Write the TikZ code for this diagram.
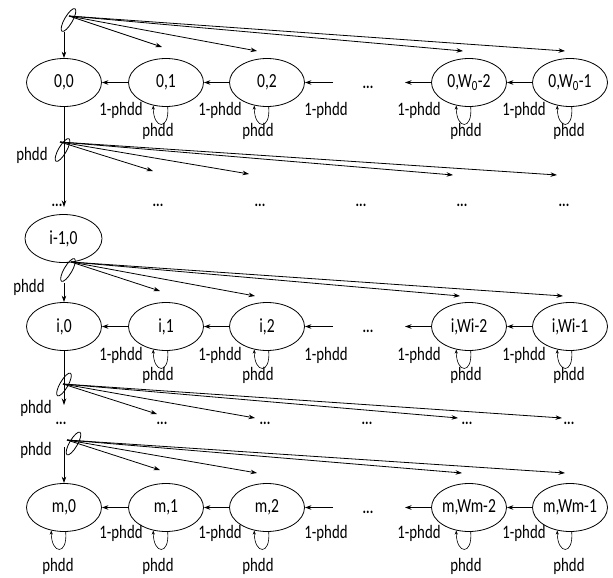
\documentclass[tikz,border=0pt]{standalone}
\usepackage{fontspec}
\setmainfont{Carlito}[FakeStretch=0.78]
\usetikzlibrary{shapes.geometric,arrows.meta}

\tikzset{
  state/.style={draw, ellipse, minimum width=75pt, minimum height=48pt,
    inner xsep=-8pt, inner ysep=0pt, font=\fontsize{20}{22}\selectfont},
  prob/.style={inner sep=0pt, font=\fontsize{19}{21}\selectfont},
  gap/.style={inner sep=0pt, font=\fontsize{17}{19}\selectfont\bfseries},
  selfloop/.style={line width=0.6pt, >={Stealth[length=4pt,width=3pt]}, <-},
}

\begin{document}
\begin{tikzpicture}[x=1pt, y=-1pt, >={Stealth[length=6.5pt,width=4.5pt]}, line width=0.8pt]

  \useasboundingbox (0,0) rectangle (613,578);

  % stage 0
  \node[state] (zero0) at (64,82.5)  {0,0};
  \node[state] (zero1) at (166,82.5) {0,1};
  \node[state] (zero2) at (267,82.5) {0,2};
  \node[state] (zero4) at (469,82.5) {0,W\textsubscript{0}-2};
  \node[state] (zero5) at (570,82.5) {0,W\textsubscript{0}-1};

  % stage i-1 (only its first counter)
  \node[state, minimum width=77pt] (prev0) at (63.5,238.5) {i-1,0};

  % stage i
  \node[state] (mid0) at (64,326.5)  {i,0};
  \node[state] (mid1) at (166,326.5) {i,1};
  \node[state] (mid2) at (267,326.5) {i,2};
  \node[state] (mid4) at (469,326.5) {i,Wi-2};
  \node[state] (mid5) at (570,326.5) {i,Wi-1};

  % stage m
  \node[state] (last0) at (64,507.5)  {m,0};
  \node[state] (last1) at (166,507.5) {m,1};
  \node[state] (last2) at (267,507.5) {m,2};
  \node[state] (last4) at (469,507.5) {m,Wm-2};
  \node[state] (last5) at (570,507.5) {m,Wm-1};

  % countdown chain of each stage, with its labels and loops
  \foreach \row/\y/\dy/\py in {zero/82.5/28/48.5, mid/326.5/28.5/48.5, last/507.5/25.5/58.5} {
    \coordinate (\row-in)  at (333,\y);
    \coordinate (\row-out) at (405,\y);
    \node[gap] (\row-gap) at (368,\y+5) {...};
    \draw[->, line width=1.1pt] (\row1) -- (\row0);
    \draw[->, line width=1.1pt] (\row2) -- (\row1);
    \draw[->, line width=1.1pt] (\row-in) -- (\row2);
    \draw[->, line width=1.1pt] (\row4) -- (\row-out);
    \draw[->, line width=1.1pt] (\row5) -- (\row4);
    \foreach \x in {121,220,326,419,524}
      \node[prob] (\row-fail\x) at (\x,\y+\dy) {1-phdd};
    \foreach \k/\x in {1/158, 2/258, 4/466, 5/569} {
      \draw[selfloop] (\row\k.241) .. controls +(0,24) and +(2,24) .. (\row\k.274);
      \node[prob] (\row-stay\k) at (\x,\y+\py) {phdd};
    }
  }
  % last stage keeps its first counter too
  \draw[selfloop] (last0.241) .. controls +(0,24) and +(2,24) .. (last0.274);
  \node[prob] (last-stay0) at (58,566) {phdd};

  % fan origins with their small ellipses
  \foreach \n/\fx/\fy/\ex/\ey in {1/69/16/68.5/20, 2/60/142/62.5/150, 3/71/262/68/270,
                                  4/63/384/64/384.5, 5/67/440/73.5/443.5} {
    \coordinate (f\n) at (\fx,\fy);
    \draw[rotate around={60:(\ex,\ey)}] (\ex,\ey) ellipse (13 and 4);
  }

  % fan-out arrows into the next stage
  \foreach \n/\tx/\ty in {1/162/47, 1/257/51, 1/463/51, 1/565/51,
                          2/153/171, 2/249/174, 2/453/175, 2/557/175,
                          3/160/291, 3/255/296, 3/460/296, 3/563/296,
                          4/157/414, 4/255/418, 4/458/418, 4/562/418,
                          5/160/470, 5/257/473, 5/462/473, 5/565/473} {
    \coordinate (t\n-\tx) at (\tx,\ty);
    \draw[->] (f\n) -- (t\n-\tx);
  }

  % vertical transitions between stages
  \coordinate (v1) at (64,32);
  \coordinate (v2) at (64,207);
  \coordinate (v3) at (64,283);
  \coordinate (v4) at (64,405);
  \coordinate (v5) at (64,447);
  \draw[->] (v1) -- (zero0.north);
  \draw[->] (zero0.south) -- (v2);
  \draw[->] (v3) -- (mid0.north);
  \draw[->] (mid0.south) -- (v4);
  \draw[->] (v5) -- (last0.north);

  \node[prob] (down2) at (32,155) {phdd};
  \node[prob] (down3) at (29,287) {phdd};
  \node[prob] (down4) at (36,408) {phdd};
  \node[prob] (down5) at (36,450) {phdd};

  % rows of dots between the stages
  \foreach \x in {57,158,260,361,462,564}
    \node[gap] (dotsA\x) at (\x,205) {...};
  \foreach \x in {61,162,265,367,467,569}
    \node[gap] (dotsB\x) at (\x,423) {...};

\end{tikzpicture}
\end{document}
